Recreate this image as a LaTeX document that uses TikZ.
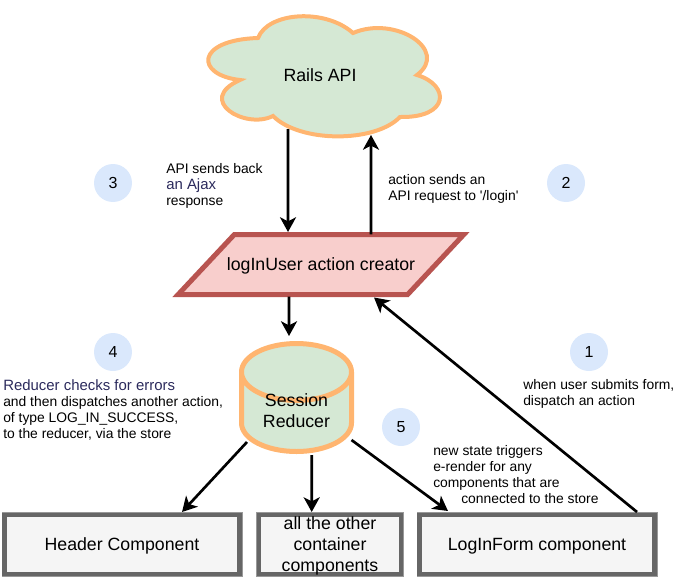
\documentclass[tikz,border=0pt]{standalone}
\usepackage{fontspec}
\setmainfont{Liberation Sans}
\usetikzlibrary{shapes.geometric,arrows.meta,calc}
\definecolor{cloudGreen}{HTML}{D5E8D4}
\definecolor{edgeOrange}{HTML}{FFB570}
\definecolor{creatorRed}{HTML}{F8CECC}
\definecolor{edgeRed}{HTML}{B85450}
\definecolor{boxGray}{HTML}{F5F5F5}
\definecolor{edgeGray}{HTML}{666666}
\definecolor{edgeLight}{HTML}{999999}
\definecolor{stepBlue}{HTML}{DAE8FC}
\definecolor{noteNavy}{HTML}{2B2A5C}
\newcommand{\noteLead}[1]{{\fontsize{11.2}{12}\selectfont\textcolor{noteNavy}{#1}}}

\begin{document}
\begin{tikzpicture}[
  x=0.75pt, y=-0.75pt,
  every node/.style={font=\fontsize{13.3}{15.75}\selectfont},
  flow/.style={-{Stealth[length=11pt,width=12pt,inset=3pt]}, line width=2pt},
  creatorbox/.style={trapezium, trapezium left angle=46, trapezium right angle=134,
                     trapezium stretches body=true, draw=edgeRed, fill=creatorRed,
                     line width=3.75pt, outer sep=0pt, inner xsep=-5.6pt, inner ysep=17pt,
                     text depth=0pt, minimum width=199pt, minimum height=45pt},
  reducerbox/.style={cylinder, shape border rotate=90, aspect=0.85, draw=edgeOrange,
                     cylinder uses custom fill, cylinder body fill=cloudGreen,
                     cylinder end fill=cloudGreen, line width=3.75pt, outer sep=0pt,
                     inner sep=0pt, minimum width=82.5pt, minimum height=81pt},
  compbox/.style={preaction={draw=edgeLight, line width=4.5pt}, draw=edgeGray, fill=boxGray,
                  line width=3.6pt, outer sep=0pt, inner sep=0pt, align=center,
                  text depth=0pt, minimum height=44.25pt},
  stepdot/.style={circle, fill=stepBlue, minimum size=28.5pt, inner sep=0pt,
                  font=\fontsize{12}{14}\selectfont},
  note/.style={font=\fontsize{10.4}{12}\selectfont, anchor=west, align=left, inner sep=0pt},
]

\useasboundingbox (0,0) rectangle (693,578);

% Cloud
\draw[fill=cloudGreen, draw=edgeOrange, line width=3pt]
  (258,38) .. controls (268,12) and (325,8) .. (353,33)
  .. controls (395,15) and (450,50) .. (417,75)
  .. controls (450,85) and (450,118) .. (400,117)
  .. controls (375,143) and (300,143) .. (273,116)
  .. controls (245,130) and (195,100) .. (240,80)
  .. controls (195,75) and (195,40) .. (258,38) -- cycle;
\node[minimum width=172pt, minimum height=90pt, inner sep=0pt, outer sep=0pt]
  (rails) at (320,75) {Rails API};

% Action creator
\node[creatorbox] (creator) at (321,264.5) {logInUser action creator};

% Reducer
\node[reducerbox] (reducer) at (296.5,413) {\hphantom{Reducer}\rule{0pt}{12pt}};
\node[align=center, inner sep=0pt] (reducerText) at ($(reducer.center)+(0,-2.5)$) {Session\\Reducer};

% Components
\node[compbox, minimum width=176.25pt] (header) at (122,544.5) {Header Component};
\node[compbox, minimum width=106.5pt] (others) at (330,544.5) {all the other\\container\\components};
\node[compbox, minimum width=176.25pt] (loginform) at (537,544.5) {LogInForm component};

% Edges
\draw[flow] ($(rails.south)+(-32,-6)$) -- ($(creator.north)+(-33,-2.5)$);
\draw[flow] ($(creator.north)+(50,0)$) -- ($(rails.south)+(51,0)$);
\draw[flow] ($(creator.south)+(-32,2)$) -- ($(reducer.center)+(-7.5,-77)$);
\draw[flow] ($(reducer.center)+(-49.5,29)$) -- ($(header.north)+(60,-3)$);
\draw[flow] ($(reducer.center)+(15.2,42)$) -- ($(others.north)+(-18.3,-3)$);
\draw[flow] ($(reducer.center)+(55,27)$) -- ($(loginform.north)+(-89,-4)$);
\draw[flow] ($(loginform.north)+(100,-3)$) -- ($(creator.south)+(53,3)$);

% Step numbers
\node[stepdot] (step1) at (589,352) {1};
\node[stepdot] (step2) at (566,183) {2};
\node[stepdot] (step3) at (113,183) {3};
\node[stepdot] (step4) at (113,352) {4};
\node[stepdot] (step5) at (401,427) {5};

% Notes
\node[note] (note1) at (523,393.5) {when user submits form,\\dispatch an action};
\node[note] (note2) at (388,188.5) {action sends an\\API request to \textquotesingle/login\textquotesingle};
\node[note] (note3) at (166,186) {API sends back\\\noteLead{an Ajax}\\response};
\node[note] (note4) at (3,410) {\noteLead{Reducer checks for errors}\\and then dispatches another action,\\of type LOG\_IN\_SUCCESS,\\to the reducer, via the store};
\node[note] (note5) at (433,475) {new state triggers\\e-render for any\\components that are\\\hspace*{21pt}connected to the store};

\end{tikzpicture}
\end{document}
